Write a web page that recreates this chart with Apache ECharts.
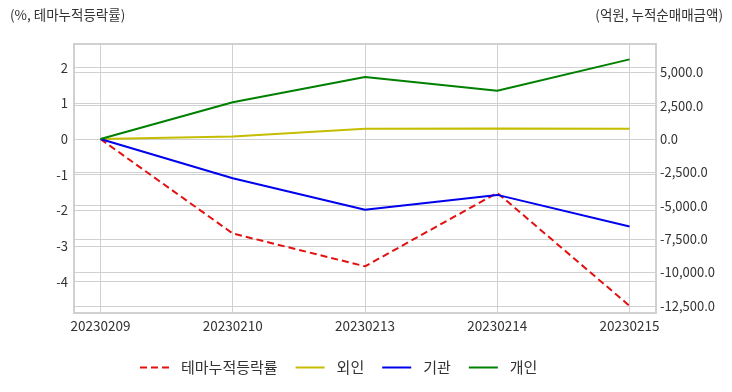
<!DOCTYPE html>
<html><head><meta charset="utf-8">
<script src="https://cdn.jsdelivr.net/npm/echarts@6/dist/echarts.min.js"></script>
<style>html,body{margin:0;padding:0;background:#fff}#c{width:732px;height:392px}</style>
</head><body><div id="c"></div>
<script>
const dates = ['20230209','20230210','20230213','20230214','20230215'];
const seriesNames = ['테마누적등락률','외인','기관','개인'];
const themeRate = [0, -2.65, -3.57, -1.51, -4.68];
const foreign = [0, 180, 770, 790, 760];
const institution = [0, -2940, -5310, -4190, -6560];
const individual = [0, 2750, 4640, 3610, 5970];
const leftTicks = [-4, -3, -2, -1, 0, 1, 2];
const rightTicks = [-12500, -10000, -7500, -5000, -2500, 0, 2500, 5000];
const leftTitle = '(%, 테마누적등락률)';
const rightTitle = '(억원, 누적순매매금액)';

const FONT = 'Noto Sans CJK KR';
const idx = dates.map((d, i) => i);
const toPts = arr => arr.map((v, i) => [i, v]);
const fmtNum = v => v.toLocaleString('en-US', {minimumFractionDigits: 1, maximumFractionDigits: 1});

const chart = echarts.init(document.getElementById('c'), null, {renderer: 'canvas'});
const gridLine = {show: true, lineStyle: {color: '#d0d0d0', width: 1}};
chart.setOption({
  animation: false,
  textStyle: {fontFamily: FONT},
  grid: {left: 74, right: 76, top: 44, bottom: 79, show: true, borderColor: '#d0d0d0', borderWidth: 2, containLabel: false},
  graphic: [
    {type: 'text', left: 10, top: 8, style: {text: leftTitle, font: '13.5px "Noto Sans CJK KR"', fill: '#333'}},
    {type: 'text', right: 9, top: 8, style: {text: rightTitle, font: '13.5px "Noto Sans CJK KR"', fill: '#333'}}
  ],
  legend: {
    bottom: 12, left: 134, itemWidth: 29, itemHeight: 14, itemGap: 17,
    itemStyle: {opacity: 0},
    textStyle: {fontFamily: FONT, fontSize: 15, color: '#333', padding: [0, 0, 0, 7]},
    data: seriesNames
  },
  xAxis: {
    type: 'value', min: -0.2, max: 4.2,
    axisLine: {show: false},
    axisTick: {show: false, customValues: idx},
    axisLabel: {customValues: idx, formatter: v => dates[Math.round(v)], fontFamily: FONT, fontSize: 13.5, color: '#333', margin: 6},
    splitLine: gridLine
  },
  yAxis: [
    {
      type: 'value', min: -4.88, max: 2.665, position: 'left',
      axisLine: {show: false},
      axisTick: {show: false, customValues: leftTicks},
      axisLabel: {customValues: leftTicks, formatter: v => String(v), fontFamily: FONT, fontSize: 13, color: '#333', margin: 6},
      splitLine: gridLine
    },
    {
      type: 'value', min: -13043, max: 7121, position: 'right',
      axisLine: {show: false},
      axisTick: {show: false, customValues: rightTicks},
      axisLabel: {customValues: rightTicks, formatter: v => fmtNum(v), fontFamily: FONT, fontSize: 13, color: '#333', margin: 4},
      splitLine: gridLine
    }
  ],
  series: [
    {name: seriesNames[0], type: 'line', yAxisIndex: 0, data: toPts(themeRate), symbol: 'none', color: '#e31010', lineStyle: {color: '#e31010', width: 2, type: [7, 4]}},
    {name: seriesNames[1], type: 'line', yAxisIndex: 1, data: toPts(foreign), symbol: 'none', color: '#c4bd00', lineStyle: {color: '#c4bd00', width: 2}},
    {name: seriesNames[2], type: 'line', yAxisIndex: 1, data: toPts(institution), symbol: 'none', color: '#0000ee', lineStyle: {color: '#0000ee', width: 2}},
    {name: seriesNames[3], type: 'line', yAxisIndex: 1, data: toPts(individual), symbol: 'none', color: '#008000', lineStyle: {color: '#008000', width: 2}}
  ]
});
</script></body></html>
